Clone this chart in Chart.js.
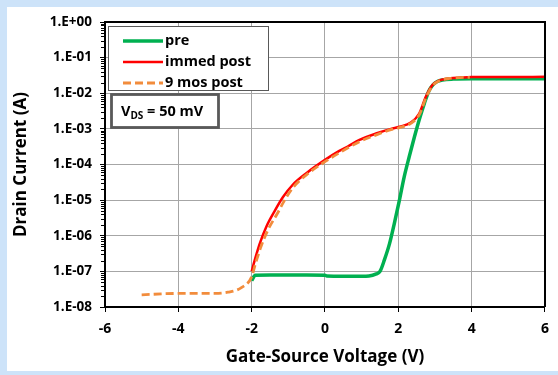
<!DOCTYPE html>
<html>
<head>
<meta charset="utf-8">
<script src="https://cdn.jsdelivr.net/npm/chart.js@4"></script>
<style>
  html, body { margin: 0; padding: 0; background: #cde3f9; }
  #wrap { width: 558px; height: 375px; position: relative; }
</style>
</head>
<body>
<div id="wrap"><canvas id="chart" width="558" height="375"></canvas></div>
<script>
// Courbes Id-Vgs (échelle log)
const seriesNames = ['pre', 'immed post', '9 mos post'];

const preV = [-2, -1.9, -1.5, -1, -0.5, 0, 0.05, 0.5, 1, 1.2, 1.4, 1.5, 1.62, 1.76, 1.89, 2.03, 2.16, 2.30, 2.44, 2.57, 2.71, 2.84, 2.95, 3.05, 3.2, 3.5, 4, 5, 6];
const preI = [5.5e-8, 7.8e-8, 7.9e-8, 7.9e-8, 7.9e-8, 7.8e-8, 7.4e-8, 7.3e-8, 7.3e-8, 7.4e-8, 8.5e-8, 1.0e-7, 2.1e-7, 6e-7, 2.2e-6, 1e-5, 4.5e-5, 1.7e-4, 6e-4, 1.8e-3, 5.2e-3, 1.2e-2, 1.75e-2, 2.1e-2, 2.35e-2, 2.5e-2, 2.55e-2, 2.55e-2, 2.55e-2];

const immedV = [-2, -1.92, -1.78, -1.6, -1.37, -1.15, -0.88, -0.5, 0, 0.39, 0.62, 0.94, 1.39, 1.8, 2.03, 2.34, 2.57, 2.75, 2.93, 3.12, 3.39, 3.7, 4, 5, 6];
const immedI = [1.0e-7, 2.0e-7, 6e-7, 1.8e-6, 5.0e-6, 1.2e-5, 2.7e-5, 5.8e-5, 1.35e-4, 2.4e-4, 3.2e-4, 4.9e-4, 7.4e-4, 1.0e-3, 1.15e-3, 1.5e-3, 2.7e-3, 8e-3, 1.7e-2, 2.3e-2, 2.6e-2, 2.75e-2, 2.85e-2, 2.85e-2, 2.9e-2];

const mosV = [-5, -4, -3, -2.65, -2.28, -2.0, -1.9, -1.75, -1.55, -1.3, -1.1, -0.85, -0.5, 0, 0.4, 0.95, 1.4, 1.8, 2.05, 2.35, 2.58, 2.76, 2.94, 3.12, 3.4, 3.7, 3.95];
const mosI = [2.2e-8, 2.4e-8, 2.4e-8, 2.6e-8, 3.5e-8, 7e-8, 1.6e-7, 4.8e-7, 1.5e-6, 4.2e-6, 1.0e-5, 2.4e-5, 5.2e-5, 1.2e-4, 2.15e-4, 4.4e-4, 6.8e-4, 9.5e-4, 1.1e-3, 1.45e-3, 2.6e-3, 7.8e-3, 1.65e-2, 2.25e-2, 2.6e-2, 2.75e-2, 2.8e-2];

const yTickValues = [1e-8, 1e-7, 1e-6, 1e-5, 1e-4, 1e-3, 1e-2, 1e-1, 1];
const yTickLabels = ['1.E-08', '1.E-07', '1.E-06', '1.E-05', '1.E-04', '1.E-03', '1.E-02', '1.E-01', '1.E+00'];

const colors = ['#00b050', '#ff0000', '#f28c3c'];
const FONT = 'Open Sans';

const toPoints = (xs, ys) => xs.map((x, i) => ({ x: x, y: ys[i] }));

// Fond blanc + cadre + petites graduations + légende
const decorPlugin = {
  id: 'decor',
  beforeDraw(chart) {
    const ctx = chart.ctx;
    ctx.save();
    ctx.fillStyle = '#cde3f9';
    ctx.fillRect(0, 0, chart.width, chart.height);
    ctx.fillStyle = '#ffffff';
    ctx.fillRect(7, 7, chart.width - 7, 364);
    ctx.restore();
  },
  afterDraw(chart) {
    const ctx = chart.ctx;
    const a = chart.chartArea;
    const ys = chart.scales.y;
    ctx.save();
    // cadre haut/droite
    ctx.strokeStyle = '#000';
    ctx.lineWidth = 2;
    ctx.beginPath();
    ctx.moveTo(a.left, a.top);
    ctx.lineTo(a.right, a.top);
    ctx.lineTo(a.right, a.bottom);
    ctx.stroke();
    // graduations mineures log
    ctx.lineWidth = 1;
    ctx.beginPath();
    for (let n = -8; n < 0; n++) {
      for (let k = 2; k <= 9; k++) {
        const py = Math.round(ys.getPixelForValue(k * Math.pow(10, n))) + 0.5;
        ctx.moveTo(a.left - 4, py);
        ctx.lineTo(a.left, py);
      }
    }
    ctx.stroke();

    // légende
    const lx = a.left + 3, ly = a.top + 4;
    ctx.fillStyle = '#fff';
    ctx.fillRect(lx, ly, 160, 64);
    ctx.strokeStyle = '#595959';
    ctx.lineWidth = 1;
    ctx.strokeRect(lx + 0.5, ly + 0.5, 160, 64);
    const rows = [15, 36, 57];
    chart.data.datasets.forEach((ds, i) => {
      const ry = ly + rows[i];
      ctx.strokeStyle = ds.borderColor;
      ctx.lineWidth = ds.borderWidth;
      ctx.setLineDash(ds.borderDash || []);
      ctx.beginPath();
      ctx.moveTo(lx + 15, ry);
      ctx.lineTo(lx + 55, ry);
      ctx.stroke();
      ctx.setLineDash([]);
      ctx.fillStyle = '#000';
      ctx.font = 'bold 14.5px "' + FONT + '"';
      ctx.textBaseline = 'middle';
      ctx.textAlign = 'left';
      ctx.fillText(ds.label, lx + 57, ry);
    });

    // encadré VDS
    const bx = a.left + 6, by = a.top + 72;
    ctx.fillStyle = '#fff';
    ctx.fillRect(bx, by, 107, 33);
    ctx.strokeStyle = '#595959';
    ctx.strokeRect(bx + 0.5, by + 0.5, 107, 33);
    ctx.fillStyle = '#000';
    ctx.textBaseline = 'alphabetic';
    ctx.font = 'bold 14.5px "' + FONT + '"';
    let tx = bx + 10;
    ctx.fillText('V', tx, by + 22);
    tx += ctx.measureText('V').width;
    ctx.font = 'bold 10px "' + FONT + '"';
    ctx.fillText('DS', tx, by + 25);
    tx += ctx.measureText('DS').width;
    ctx.font = 'bold 14.5px "' + FONT + '"';
    ctx.fillText(' = 50 mV', tx, by + 22);
    ctx.restore();
  }
};

Chart.defaults.font.family = FONT;
Chart.defaults.color = '#000';

new Chart(document.getElementById('chart').getContext('2d'), {
  type: 'line',
  data: {
    datasets: [
      { label: seriesNames[0], data: toPoints(preV, preI), borderColor: colors[0], borderWidth: 3.5, order: 2 },
      { label: seriesNames[1], data: toPoints(immedV, immedI), borderColor: colors[1], borderWidth: 2.5, order: 1 },
      { label: seriesNames[2], data: toPoints(mosV, mosI), borderColor: colors[2], borderWidth: 2.8, borderDash: [8, 4], order: 0 }
    ]
  },
  options: {
    responsive: false,
    animation: false,
    layout: { padding: { top: 22, right: 12, left: 0, bottom: 0 } },
    elements: {
      point: { radius: 0 },
      line: { cubicInterpolationMode: 'monotone', fill: false }
    },
    plugins: { legend: { display: false }, tooltip: { enabled: false } },
    scales: {
      x: {
        type: 'linear',
        min: -6, max: 6,
        ticks: { stepSize: 2, padding: 9, font: { size: 14, weight: 'bold' } },
        grid: { color: '#a6a6a6', tickColor: '#000', tickLength: 5 },
        border: { color: '#000', width: 2 },
        title: { display: true, text: 'Gate-Source Voltage (V)', font: { size: 17, weight: 'bold' }, padding: { top: 0, bottom: 8 } },
        afterFit(scale) { scale.height = 68; }
      },
      y: {
        type: 'logarithmic',
        min: 1e-8, max: 1,
        afterBuildTicks(scale) { scale.ticks = yTickValues.map(v => ({ value: v })); },
        ticks: {
          padding: 8,
          font: { size: 13.5, weight: 'bold' },
          callback: (v, i) => yTickLabels[i]
        },
        grid: { color: '#a6a6a6', tickColor: '#000', tickLength: 5 },
        border: { color: '#000', width: 2 },
        title: { display: true, text: 'Drain Current (A)', font: { size: 17, weight: 'bold' }, padding: { top: 11, bottom: 0 } },
        afterFit(scale) { scale.width = 105; }
      }
    }
  },
  plugins: [decorPlugin]
});
</script>
</body>
</html>
